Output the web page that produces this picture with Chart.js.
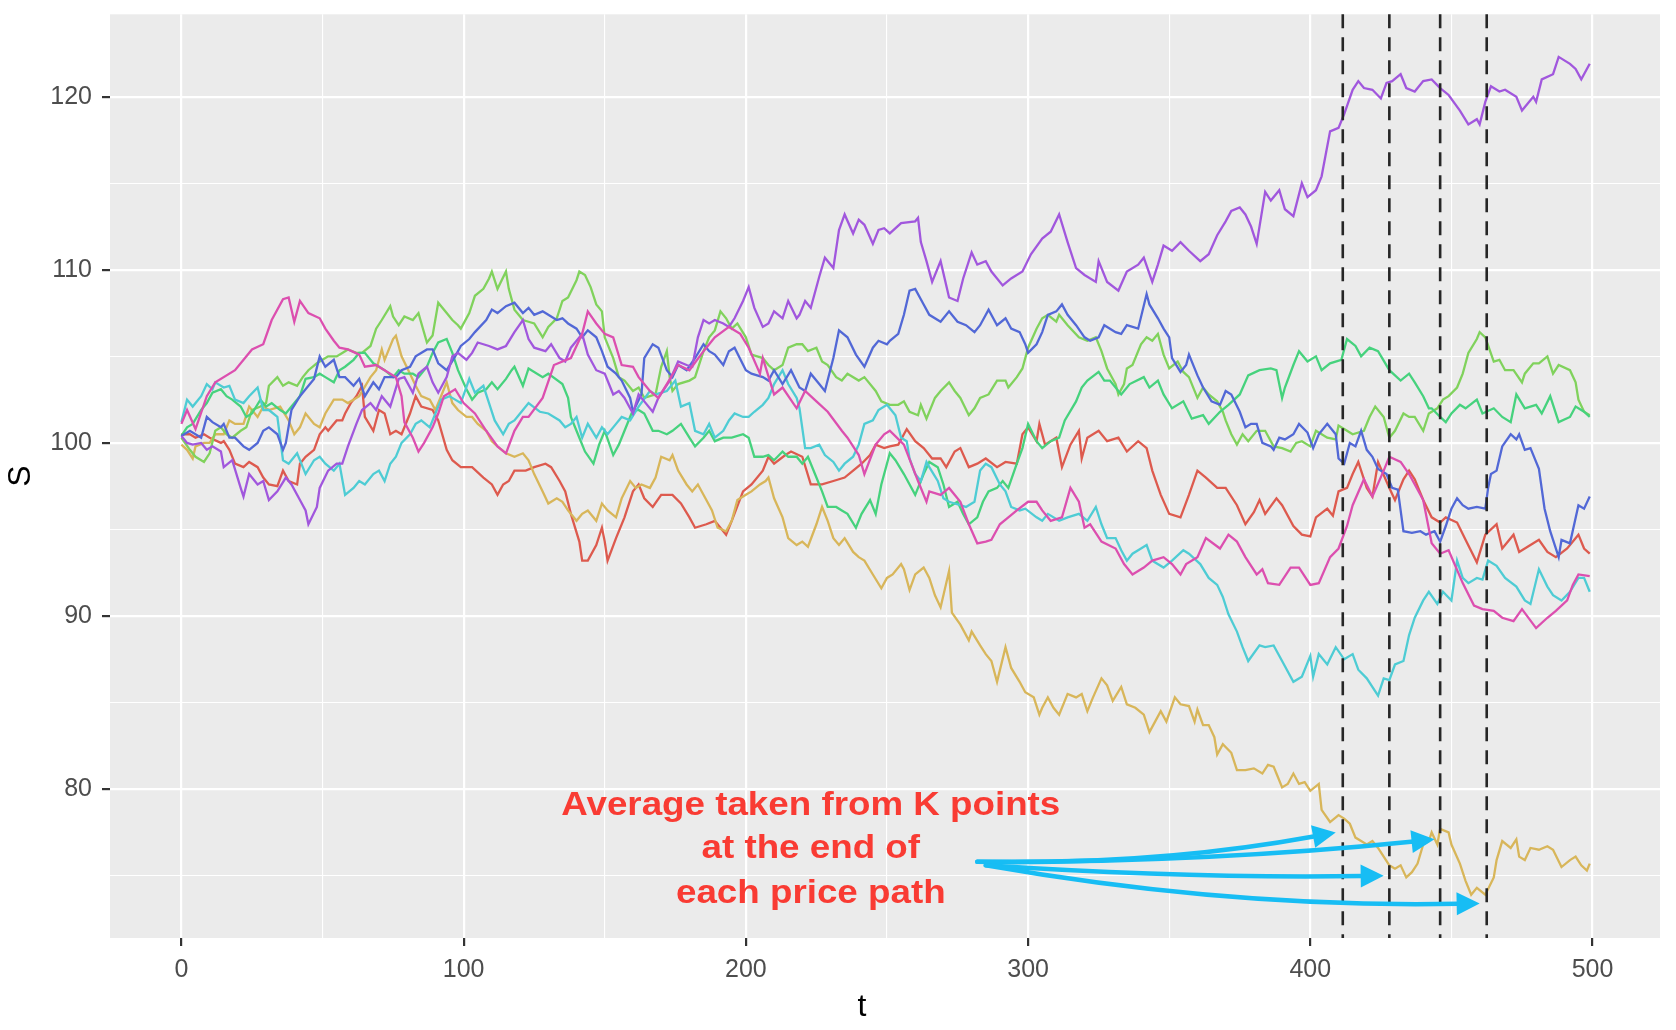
<!DOCTYPE html>
<html>
<head>
<meta charset="utf-8">
<script src="https://cdn.jsdelivr.net/npm/chart.js@4.4.1/dist/chart.umd.min.js"></script>
<style>
  html, body { margin: 0; padding: 0; background: #ffffff; }
  canvas { display: block; }
</style>
</head>
<body>
<canvas id="pathChart" width="1676" height="1030"></canvas>
<script>
'use strict';

// price paths as [t, S]
let redPath = [[0,100.5],[3,100.5],[5,100.3],[8,100.5],[10,100.3],[14,100.0],[15,100.1],[17,99.6],[19,98.8],[22,98.6],[24,98.9],[27,98.6],[29,98.0],[31,97.6],[34,97.5],[36,98.4],[38,97.8],[41,97.6],[42,98.8],[44,99.2],[47,99.6],[49,100.5],[51,100.9],[52,100.7],[55,101.3],[57,101.3],[58,101.7],[60,102.3],[62,102.7],[64,103.3],[65,101.5],[68,100.7],[70,101.9],[72,101.7],[74,100.5],[76,100.7],[78,100.5],[81,101.7],[83,102.7],[85,102.1],[89,101.9],[91,101.3],[94,99.6],[96,99.0],[99,98.6],[103,98.6],[107,98.0],[110,97.6],[112,97.0],[114,97.6],[116,97.8],[118,98.4],[122,98.4],
  [125,98.6],[129,98.8],[131,98.6],[134,97.8],[136,97.2],[138,95.9],[141,94.3],[142,93.2],[144,93.2],[147,94.1],[149,95.1],[150,94.3],[151,93.2],[154,94.5],[157,95.7],[160,97.2],[162,97.6],[164,96.8],[167,96.3],[170,97.0],[174,97.0],[177,96.5],[180,95.7],[182,95.1],[186,95.3],[189,95.5],[193,94.7],[195,95.5],[199,97.2],[202,97.6],[206,98.4],[208,99.2],[210,98.8],[214,99.3],[216,99.5],[220,99.2],[223,97.6],[227,97.6],[231,97.8],[235,98.0],[238,98.4],[241,98.8],[244,99.3],[246,99.9],[249,99.7],
  [251,99.8],[254,99.9],[257,100.8],[260,100.1],[263,99.7],[266,99.1],[269,99.1],[271,98.6],[274,99.5],[276,99.7],[279,98.6],[282,98.8],[285,99.1],[289,98.6],[292,98.9],[296,98.8],[298,100.5],[300,100.9],[303,100.1],[304,101.1],[306,99.9],[310,100.3],[312,98.6],[315,99.9],[318,100.7],[319,99.1],[321,100.3],[325,100.7],[328,100.1],[332,100.3],[335,99.5],[339,100.1],[342,99.7],[344,98.4],[347,97.0],[350,95.9],[354,95.7],[357,97.0],[360,98.4],[363,98.0],[367,97.4],[370,97.4],[374,96.4],[377,95.3],
  [380,96.0],[382,96.7],[384,95.9],[388,96.8],[390,96.4],[394,95.2],[397,94.7],[400,94.6],[402,95.7],[406,96.2],[408,95.8],[410,97.2],[413,97.4],[415,98.2],[417,98.9],[420,97.4],[422,96.9],[424,98.9],[428,97.4],[430,96.7],[433,97.9],[435,98.4],[437,97.9],[440,96.7],[443,95.7],[446,95.4],[448,95.7],[452,95.4],[455,94.4],[459,93.1],[462,94.7],[466,95.3],[468,93.9],[472,94.7],[474,93.7],[478,94.1],[481,94.4],[484,93.7],[487,93.4],[491,93.9],[495,94.7],[497,93.9],[499,93.6]];

let goldPath = [[0,99.9],[2,99.6],[4,99.1],[5,99.8],[8,100.0],[10,100.0],[12,100.5],[15,100.5],[17,101.3],[19,101.1],[22,101.1],[24,102.1],[27,101.5],[29,102.1],[31,101.9],[35,102.1],[38,101.3],[40,100.5],[42,100.9],[44,101.7],[47,101.1],[49,100.9],[51,101.7],[54,102.5],[57,102.5],[59,102.3],[63,102.7],[67,103.8],[69,104.2],[71,105.4],[72,104.8],[75,106.0],[76,106.2],[78,105.0],[81,104.0],[83,103.3],[85,102.7],[88,102.5],[90,101.9],[94,103.5],[96,102.3],[98,101.9],[101,101.5],[103,101.5],[105,101.1],[108,100.7],[110,100.1],[112,99.8],[115,99.4],[118,99.2],[121,99.4],
  [123,99.0],[125,98.2],[128,97.2],[130,96.5],[133,96.8],[135,96.6],[137,96.1],[140,95.5],[142,95.9],[144,96.1],[147,95.5],[149,96.5],[151,96.1],[154,95.7],[156,96.8],[159,97.8],[161,97.4],[163,97.6],[166,97.4],[168,98.0],[170,99.2],[173,99.0],[174,99.3],[176,98.4],[179,97.6],[181,97.2],[183,97.6],[186,96.7],[188,96.1],[190,95.1],[193,94.9],[195,95.5],[197,96.7],[200,97.0],[202,97.2],[205,97.6],[207,97.8],[208,98.0],[210,96.8],[213,95.7],[215,94.5],[218,94.1],[220,94.3],[222,94.0],[225,95.3],[227,96.3],[229,95.5],[231,94.5],[233,94.1],[235,94.5],[238,93.7],[240,93.4],[242,93.2],
  [245,92.4],[248,91.6],[250,92.2],[252,92.4],[255,93.0],[256,92.7],[258,91.5],[260,92.4],[263,92.8],[265,92.2],[267,91.2],[269,90.5],[270,91.2],[272,92.6],[273,90.2],[276,89.5],[279,88.6],[280,89.1],[283,88.3],[285,87.8],[287,87.4],[289,86.2],[292,88.2],[294,87.0],[297,86.2],[299,85.6],[302,85.3],[304,84.3],[305,84.7],[307,85.3],[309,84.7],[311,84.3],[314,85.5],[317,85.3],[319,85.5],[321,84.5],[323,85.3],[326,86.4],[328,86.0],[330,85.1],[333,85.9],[335,84.9],[338,84.7],[341,84.3],[343,83.3],[345,83.9],[347,84.5],[349,83.9],[352,85.3],[354,84.9],[357,84.8],[359,83.9],[360,84.6],[362,83.7],[364,83.7],[366,83.0],[367,82.0],[369,82.6],[372,82.1],[374,81.1],[377,81.1],
  [380,81.2],[383,80.9],[385,81.4],[387,81.3],[388,80.9],[390,80.1],[392,80.3],[394,80.9],[396,80.3],[398,80.4],[400,79.9],[403,80.3],[404,78.8],[407,78.1],[410,78.5],[412,78.3],[414,78.0],[416,77.2],[418,77.0],[420,76.8],[422,77.0],[424,76.6],[426,76.1],[428,75.6],[430,75.4],[432,75.6],[434,74.9],[436,75.2],[438,75.7],[440,76.8],[442,77.0],[443,77.5],[445,76.8],[446,77.7],[449,77.5],[450,76.8],[453,75.7],[455,74.7],[457,73.9],[459,74.3],[462,73.9],[465,74.9],[466,75.9],[468,77.0],[471,76.6],[473,77.1],[474,76.1],[476,75.9],[478,76.6],[481,76.5],[484,76.7],[486,76.5],[489,75.5],[492,75.9],[494,76.1],[496,75.6],[498,75.3],[499,75.7]];

let limePath = [[0,100.3],[3,99.6],[5,99.2],[8,98.9],[10,99.4],[12,100.7],[14,100.9],[16,100.5],[18,100.3],[21,100.7],[23,100.9],[25,101.9],[28,102.1],[30,102.3],[31,103.3],[34,103.8],[36,103.3],[38,103.5],[41,103.3],[43,103.8],[45,104.2],[48,104.6],[50,104.8],[52,105.0],[55,105.0],[57,105.2],[59,105.4],[62,105.2],[64,105.2],[67,105.6],[69,106.6],[71,107.1],[74,107.9],[75,107.3],[77,106.8],[79,107.3],[82,107.1],[84,107.5],[87,105.8],[89,106.2],[91,108.1],[94,107.5],[96,107.1],[98,106.8],[99,106.6],[102,107.5],[104,108.5],[107,108.9],[109,109.5],[110,109.9],[112,108.9],[115,109.9],[116,108.9],[118,107.7],[121,107.1],
  [123,107.0],[125,106.9],[128,106.1],[130,106.7],[133,107.2],[135,108.2],[137,108.4],[140,109.4],[141,109.9],[143,109.7],[145,109.0],[147,108.0],[149,107.6],[150,106.1],[153,104.9],[155,103.8],[157,103.6],[160,103.0],[162,103.2],[164,102.6],[168,102.8],[170,104.4],[172,105.3],[173,103.8],[174,103.0],[176,103.4],[180,103.6],[182,103.8],[185,105.3],[187,106.1],[189,106.5],[191,107.6],[193,107.2],[195,106.6],[197,106.9],[200,106.1],[202,105.1],[206,104.9],[208,104.5],[210,104.2],[213,104.5],[215,105.5],[218,105.7],[220,105.7],[222,105.3],[225,105.5],[227,104.7],[229,104.5],[232,103.8],[234,103.6],[236,104.0],[240,103.6],[242,103.8],[246,103.0],[248,102.4],[251,102.2],
  [254,102.2],[256,102.4],[258,101.8],[261,101.6],[262,102.2],[264,101.4],[267,102.6],[269,103.0],[272,103.5],[274,103.0],[276,102.6],[279,101.6],[281,102.0],[283,102.6],[286,102.8],[289,103.6],[292,103.6],[293,103.2],[296,103.8],[298,104.3],[300,105.5],[303,106.6],[305,107.2],[307,107.4],[310,107.0],[311,107.4],[314,106.8],[318,106.1],[321,105.9],[324,106.1],[326,105.3],[328,104.3],[331,103.4],[332,102.8],[334,103.4],[335,104.3],[337,104.5],[340,105.7],[342,106.1],[344,105.9],[346,106.3],[348,105.1],[350,104.3],[353,104.7],[355,104.1],[357,103.8],[360,102.6],[362,103.2],[364,102.8],[367,102.4],[369,101.8],[370,101.3],[372,100.5],[374,99.9],[376,100.5],[378,100.1],
  [381,100.7],[384,100.7],[387,99.8],[390,99.7],[393,99.5],[395,100.0],[397,100.1],[400,99.8],[402,100.7],[406,100.3],[409,100.2],[410,101.0],[413,100.7],[415,100.5],[419,100.7],[421,101.5],[423,102.1],[426,101.5],[428,100.3],[430,100.7],[433,101.7],[435,101.5],[437,101.5],[440,100.7],[442,101.7],[445,102.0],[447,102.5],[449,102.7],[452,103.2],[454,104.0],[456,105.2],[459,106.0],[460,106.4],[462,106.1],[465,104.7],[467,104.8],[469,104.2],[472,104.2],[475,103.5],[476,104.0],[479,104.6],[481,104.6],[484,105.0],[486,104.0],[488,104.5],[492,104.2],[494,103.5],[495,102.5],[497,101.8],[499,101.6]];

let greenPath = [[0,100.4],[2,100.9],[4,101.1],[7,101.9],[9,102.3],[11,102.9],[14,103.1],[16,102.7],[18,102.5],[21,102.1],[23,101.5],[25,101.7],[28,102.5],[30,102.1],[32,102.3],[35,101.9],[37,101.7],[39,102.1],[42,102.7],[44,103.7],[47,103.8],[49,104.0],[51,103.8],[54,103.5],[56,104.2],[58,104.4],[61,104.8],[63,105.2],[65,105.2],[68,104.6],[70,104.4],[72,104.2],[75,103.8],[77,104.2],[79,104.0],[82,104.0],[84,103.8],[87,104.4],[89,105.2],[91,105.8],[94,106.0],[96,105.2],[98,104.2],[101,103.1],[103,102.5],[105,102.9],[108,103.1],[110,103.5],[112,103.1],[115,103.7],[117,104.2],[118,104.4],[121,103.3],
  [123,104.3],[128,103.8],[130,104.0],[135,103.4],[137,102.6],[138,101.5],[141,100.3],[143,99.5],[146,98.8],[148,99.9],[150,100.7],[153,99.3],[155,99.9],[157,100.7],[160,101.9],[162,101.9],[164,101.7],[167,100.7],[169,100.7],[172,100.5],[174,100.7],[177,101.1],[180,100.3],[182,99.8],[185,100.3],[187,100.7],[189,100.1],[192,100.3],[195,100.3],[199,100.5],[201,100.3],[203,99.2],[206,99.2],[208,99.3],[210,99.0],[213,99.5],[215,99.2],[218,99.2],[220,98.8],[222,99.2],[225,98.0],[227,97.2],[229,96.3],[232,96.3],[234,96.1],[236,95.9],[239,95.1],[241,95.9],[244,96.7],[246,95.9],[248,97.6],[251,99.4],[253,99.0],
  [256,98.2],[260,97.0],[263,98.2],[265,98.9],[268,98.6],[270,97.6],[272,96.3],[275,96.6],[277,95.9],[279,95.3],[282,95.7],[284,96.6],[286,97.2],[289,97.4],[291,97.8],[293,97.4],[296,98.8],[298,99.7],[300,101.1],[303,100.1],[305,99.7],[308,100.1],[311,100.3],[313,101.3],[317,102.4],[319,103.2],[321,103.6],[325,104.1],[327,103.6],[329,103.6],[333,102.8],[336,103.4],[341,103.8],[343,103.2],[346,103.6],[348,102.8],[351,102.0],[355,102.4],[358,101.4],[362,101.6],[364,101.1],[368,101.8],[371,102.2],[375,102.8],[378,103.9],
  [382,104.2],[386,104.3],[388,104.2],[390,102.6],[391,103.2],[394,104.5],[396,105.3],[399,104.7],[402,105.0],[404,104.2],[407,104.6],[411,104.8],[413,106.0],[416,105.6],[418,105.0],[421,105.5],[424,105.3],[428,104.2],[432,103.6],[435,104.0],[437,103.5],[440,102.7],[442,102.0],[443,102.0],[446,101.5],[448,101.2],[450,101.7],[453,102.2],[455,102.0],[459,102.5],[461,101.7],[465,102.0],[468,101.5],[471,101.2],[473,102.8],[476,102.0],[480,102.2],[482,101.7],[485,102.7],[488,101.2],[492,101.5],[494,102.1],[497,101.8],[499,101.5]];

let cyanPath = [[0,101.2],[2,102.5],[4,102.1],[7,102.7],[9,103.4],[11,103.1],[12,103.5],[15,103.2],[17,103.3],[19,102.5],[22,102.3],[24,102.7],[27,103.2],[29,101.9],[31,101.9],[34,101.5],[36,99.0],[38,98.8],[41,99.4],[43,98.6],[44,98.2],[47,99.0],[49,99.2],[51,98.8],[54,98.4],[56,98.8],[58,97.0],[61,97.4],[63,97.8],[65,97.6],[68,98.2],[70,98.4],[72,97.8],[74,98.8],[76,99.2],[78,100.0],[81,100.5],[83,101.1],[85,101.3],[88,100.9],[90,101.7],[92,102.5],[95,102.7],[97,102.5],[99,102.3],[102,103.7],[104,102.9],[107,103.3],[109,102.3],[111,101.3],[114,100.5],[116,101.1],[118,101.3],[121,101.9],
  [123,102.3],[127,101.8],[130,101.7],[134,101.3],[136,100.9],[138,101.1],[140,101.5],[142,100.3],[144,101.1],[147,100.3],[149,100.9],[151,100.5],[154,101.1],[156,101.5],[159,101.3],[162,102.1],[166,103.0],[168,102.8],[172,103.0],[175,103.6],[177,102.1],[180,102.3],[182,100.7],[185,100.5],[187,101.1],[189,100.3],[192,100.7],[194,101.3],[196,101.7],[199,101.5],[201,101.5],[203,101.8],[206,102.2],[208,102.6],[210,103.4],[213,104.2],[215,103.4],[218,102.6],[219,102.0],[221,99.7],[223,99.7],[226,99.9],[228,99.3],[231,98.9],[233,98.4],[235,98.8],[238,99.2],[240,99.9],[242,101.1],[245,101.3],[247,101.9],[250,102.2],
  [253,101.6],[255,100.3],[257,100.1],[258,99.1],[260,98.2],[262,97.8],[264,98.9],[265,98.6],[268,97.8],[270,96.8],[272,96.6],[276,96.4],[278,96.3],[281,96.6],[283,98.4],[285,98.8],[287,98.6],[290,97.6],[292,97.2],[294,96.3],[297,96.1],[299,96.2],[303,95.7],[305,95.5],[307,95.9],[311,95.5],[314,95.7],[318,95.9],[321,95.5],[324,96.3],[326,95.3],[328,94.5],[331,94.5],[333,93.8],[335,93.2],[337,93.6],[340,93.9],[342,94.1],[344,93.2],[348,92.8],[351,93.2],[355,93.8],[357,93.6],[361,93.0],[364,92.2],[367,91.8],[369,91.1],[371,90.1],[374,89.1],[376,88.2],[378,87.4],
  [382,88.3],[384,88.2],[387,88.3],[390,87.4],[394,86.2],[397,86.5],[400,87.7],[401,86.5],[403,87.8],[406,87.2],[409,88.2],[412,87.5],[415,87.8],[417,86.9],[420,86.4],[424,85.4],[426,86.4],[428,86.3],[430,87.2],[433,87.4],[435,88.9],[437,89.9],[440,90.9],[442,91.4],[445,90.7],[447,91.4],[450,90.9],[452,93.2],[454,92.2],[456,91.9],[459,92.2],[461,92.1],[463,93.2],[466,92.9],[469,92.2],[473,91.7],[476,90.9],[478,90.7],[481,92.7],[484,91.7],[486,91.2],[489,90.9],[492,91.4],[495,92.2],[497,92.2],[499,91.4]];

let bluePath = [[0,100.4],[3,100.7],[7,100.3],[9,101.5],[11,101.2],[14,100.9],[15,101.1],[17,100.3],[19,100.3],[22,99.8],[24,99.6],[27,100.0],[29,100.7],[31,100.9],[34,100.5],[36,99.6],[37,100.0],[39,101.9],[42,102.7],[44,103.1],[47,103.7],[49,105.0],[51,104.4],[54,104.8],[56,103.8],[58,103.8],[61,103.3],[63,103.7],[65,102.7],[68,103.5],[70,103.1],[72,103.8],[76,103.8],[78,104.2],[81,104.4],[83,105.0],[87,105.4],[89,105.4],[91,104.6],[94,104.2],[97,105.0],[99,105.6],[102,106.0],[104,106.4],[108,107.1],[110,107.7],[112,107.5],[115,107.9],[118,108.1],[121,107.5],
  [123,107.8],[125,107.4],[128,107.6],[130,107.4],[133,107.1],[135,107.2],[137,106.9],[140,106.6],[142,106.1],[144,106.5],[147,106.1],[149,105.3],[151,104.4],[154,104.0],[156,103.6],[159,102.6],[160,101.8],[163,102.8],[164,104.9],[167,105.7],[169,105.5],[172,104.2],[174,103.8],[176,104.5],[179,104.2],[182,104.9],[185,105.7],[187,105.3],[189,105.1],[192,104.5],[194,105.3],[196,105.5],[200,104.2],[202,104.0],[206,103.8],[208,103.6],[210,104.2],[213,103.4],[216,104.2],[219,103.2],[221,103.0],[223,104.0],[226,103.4],[228,103.0],[231,104.9],[233,106.5],[236,106.1],[239,105.1],[242,104.4],[245,105.5],[247,105.9],[250,105.7],
  [251,105.9],[254,106.3],[256,107.4],[258,108.8],[260,108.9],[263,108.0],[265,107.4],[269,107.0],[272,107.6],[275,107.0],[278,106.8],[281,106.4],[283,106.8],[286,107.7],[289,106.8],[292,107.2],[294,106.6],[297,106.4],[299,105.7],[300,105.2],[303,105.7],[305,106.4],[307,107.4],[310,107.6],[312,108.0],[314,107.4],[317,106.8],[320,106.1],[322,105.9],[325,106.1],[327,106.8],[331,106.4],[333,106.3],[335,106.8],[339,106.6],[342,108.6],[343,108.0],[346,107.2],[348,106.6],[350,106.1],[351,104.9],[354,104.1],[356,104.5],[357,105.1],[360,103.9],[362,103.2],[365,102.4],[368,102.2],[370,103.0],[372,102.8],[375,101.8],[377,100.9],
  [379,101.1],[381,101.1],[383,100.0],[386,99.8],[387,99.6],[389,100.3],[391,100.2],[394,100.5],[396,101.1],[399,100.6],[401,99.7],[403,100.5],[406,101.1],[409,100.5],[410,99.1],[412,98.8],[414,100.0],[416,99.8],[418,100.7],[420,99.6],[422,99.2],[424,98.5],[427,98.2],[429,97.4],[431,97.3],[433,94.9],[436,94.8],[439,94.9],[441,94.7],[444,94.9],[446,94.3],[448,95.2],[450,96.2],[452,96.8],[454,96.4],[456,96.2],[459,96.3],[462,96.2],[463,97.4],[464,98.2],[466,98.4],[468,99.8],[471,100.5],[473,100.2],[474,100.5],[476,99.6],[478,99.7],[481,98.5],[483,96.2],[485,94.9],[488,93.4],[489,94.4],[492,94.2],[495,96.4],[497,96.2],[499,96.9]];

let purplePath = [[0,100.4],[2,100.0],[4,99.9],[7,100.0],[9,99.6],[11,99.8],[14,99.5],[15,98.6],[18,99.0],[21,97.4],[22,96.9],[24,98.2],[27,97.6],[29,97.8],[31,96.7],[34,97.2],[37,98.0],[39,97.6],[42,96.7],[44,96.1],[45,95.3],[48,96.3],[49,97.4],[52,98.4],[55,98.8],[57,98.8],[59,99.8],[62,101.1],[64,101.9],[67,102.3],[69,101.9],[71,102.7],[74,102.1],[77,103.7],[79,103.8],[82,102.9],[84,104.0],[87,104.4],[89,103.5],[91,102.9],[94,103.8],[96,105.0],[98,105.2],[101,104.8],[103,105.2],[105,105.8],[109,105.6],[112,105.4],[115,105.6],[118,106.4],[121,107.1],
  [123,106.0],[125,105.5],[129,105.3],[131,105.7],[134,104.9],[136,104.7],[138,105.5],[142,106.3],[144,105.1],[147,104.2],[150,104.0],[153,102.8],[155,103.0],[157,102.6],[160,101.7],[162,102.8],[164,102.4],[167,101.8],[169,102.6],[173,103.6],[176,104.7],[179,104.5],[181,104.4],[183,106.1],[185,107.1],[187,106.9],[189,107.1],[192,106.9],[194,106.7],[196,107.2],[199,108.2],[201,109.0],[203,107.8],[206,106.7],[208,106.9],[210,107.6],[213,107.2],[215,108.2],[218,107.2],[219,107.4],[221,108.2],[223,107.8],[226,109.6],[228,110.7],[231,110.1],[233,112.3],[235,113.2],[238,112.1],[240,112.9],[242,112.6],[245,111.5],[247,112.3],[249,112.4],
  [251,112.1],[255,112.7],[260,112.8],[261,113.0],[262,111.6],[264,110.5],[266,109.3],[269,110.5],[272,108.4],[275,108.2],[277,109.5],[280,111.0],[282,110.3],[285,110.5],[287,109.9],[291,109.1],[294,109.5],[298,109.9],[301,110.9],[305,111.8],[308,112.2],[311,113.2],[314,111.6],[317,110.1],[320,109.7],[324,109.3],[325,110.5],[328,109.3],[332,108.8],[335,109.9],[339,110.3],[341,110.7],[344,109.3],[346,110.3],[348,111.4],[351,111.1],[354,111.6],[357,111.1],[361,110.5],[364,110.9],[367,112.0],[370,112.8],[372,113.4],[375,113.6],[377,113.2],
  [379,112.5],[381,111.5],[384,114.5],[386,114.0],[389,114.6],[391,113.5],[394,113.1],[397,115.0],[399,114.2],[402,114.6],[404,115.4],[407,118.0],[410,118.2],[412,119.0],[415,120.4],[417,120.9],[419,120.5],[422,120.4],[425,119.9],[427,120.8],[429,120.9],[432,121.3],[434,120.5],[437,120.3],[440,120.9],[443,121.0],[446,120.5],[449,120.1],[453,119.2],[456,118.4],[459,118.7],[460,118.4],[462,119.7],[464,120.6],[467,120.3],[469,120.4],[473,120.0],[475,119.2],[479,120.0],[480,119.7],[482,121.0],[486,121.3],[488,122.3],[492,121.9],[494,121.6],[496,121.0],[499,121.9]];

let pinkPath = [[0,101.1],[2,101.9],[5,100.8],[9,102.7],[12,103.5],[19,104.2],[25,105.4],[29,105.7],[32,107.1],[36,108.3],[38,108.4],[40,107.0],[42,108.2],[45,107.5],[49,107.2],[51,106.6],[54,105.9],[56,105.5],[59,105.4],[63,105.1],[65,104.4],[69,104.5],[72,104.2],[76,103.8],[78,102.7],[79,101.2],[82,100.3],[84,99.5],[86,100.0],[89,100.9],[91,101.7],[93,102.7],[97,103.1],[100,102.3],[104,101.7],[108,100.7],[112,99.8],[115,99.4],[118,100.7],[121,101.5],
  [123,101.5],[128,102.6],[132,104.5],[138,104.9],[142,106.3],[144,107.6],[147,106.9],[150,106.3],[153,106.1],[156,104.5],[160,104.4],[162,103.8],[166,103.0],[169,102.6],[172,103.4],[176,104.5],[180,104.2],[185,105.3],[189,106.1],[194,106.7],[198,106.3],[201,105.5],[205,104.0],[206,104.9],[210,102.8],[213,103.2],[218,102.0],[221,103.0],[225,102.4],[229,101.8],[234,100.7],[236,100.3],[240,99.3],[242,98.2],[246,99.9],[249,100.5],
  [251,100.7],[256,99.9],[261,97.8],[264,96.6],[265,97.2],[269,97.0],[272,97.4],[276,96.6],[279,95.3],[282,94.2],[285,94.3],[287,94.4],[290,95.3],[293,95.7],[296,96.1],[300,96.6],[303,96.6],[305,96.1],[308,95.5],[312,95.7],[315,97.4],[318,96.6],[320,95.1],[322,95.3],[326,94.3],[331,93.9],[334,93.0],[337,92.4],[341,92.8],[344,93.2],[348,93.4],[351,93.0],[354,92.4],[356,93.0],[360,93.4],[363,94.5],[368,93.9],[371,94.7],[374,94.3],[377,93.4],
  [381,92.4],[383,92.7],[385,91.9],[389,91.8],[393,92.8],[396,92.8],[400,91.8],[403,91.9],[407,93.4],[410,93.9],[413,95.2],[415,96.4],[419,97.9],[422,96.9],[426,98.4],[428,99.2],[432,98.9],[435,98.2],[440,96.7],[443,94.2],[446,93.6],[449,93.8],[454,91.9],[458,90.6],[461,90.4],[465,90.3],[468,89.9],[472,89.7],[475,90.4],[480,89.3],[484,89.9],[487,90.3],[491,90.9],[493,91.8],[495,92.4],[499,92.3]];

let paths = [redPath, goldPath, limePath, greenPath, cyanPath, bluePath, purplePath, pinkPath];
let pathColors = ['#DD5A4E', '#D8B65A', '#80D25C', '#46D27D', '#4ECCD4', '#5268D6', '#A157DD', '#DC4FAF'];

// axis ticks
let xMajor = [0, 100, 200, 300, 400, 500];
let xGrid = [0, 50, 100, 150, 200, 250, 300, 350, 400, 450, 500];
let yMajor = [80, 90, 100, 110, 120];
let yGrid = [75, 80, 85, 90, 95, 100, 105, 110, 115, 120];

// the K averaging points (dashed lines) and the note
let kPoints = [411.5, 428, 446, 462.5];
let noteLines = ['Average taken from K points', 'at the end of', 'each price path'];
let noteT = 223;
let noteS = [78.5, 76.0, 73.45];
let arrowFrom = [[282, 75.8], [282, 75.8], [285, 75.6], [285, 75.6]];
let arrowTo = [[409, 77.5], [444, 77.1], [426, 75.0], [460, 73.4]];
let arrowBend = [9, 6, 4, 12];

let datasets = [];
for (let i = paths.length - 1; i >= 0; i--) {
    datasets.push({
        data: paths[i].map(p => ({ x: p[0], y: p[1] })),
        borderColor: pathColors[i],
        borderWidth: 2.3,
        pointRadius: 0,
        tension: 0,
        fill: false
    });
}

let panelBg = {
    id: 'panelBg',
    beforeDraw(chart) {
        let a = chart.chartArea;
        let ctx = chart.ctx;
        ctx.save();
        ctx.fillStyle = '#EBEBEB';
        ctx.fillRect(a.left, a.top, a.right - a.left, a.bottom - a.top);
        ctx.restore();
    }
};

function drawArrow(ctx, x0, y0, x1, y1, bend) {
    let mx = (x0 + x1) / 2;
    let my = (y0 + y1) / 2;
    let dx = x1 - x0;
    let dy = y1 - y0;
    let len = Math.sqrt(dx * dx + dy * dy);
    // normal pointing downwards on screen
    let nx = -dy / len;
    let ny = dx / len;
    if (ny < 0) { nx = -nx; ny = -ny; }
    let cx = mx + nx * bend * 2;
    let cy = my + ny * bend * 2;
    let tx = x1 - cx;
    let ty = y1 - cy;
    let tl = Math.sqrt(tx * tx + ty * ty);
    tx /= tl;
    ty /= tl;
    let headLen = 23;
    let headHalf = 11.5;
    let bx = x1 - tx * headLen;
    let by = y1 - ty * headLen;

    ctx.beginPath();
    ctx.moveTo(x0, y0);
    ctx.quadraticCurveTo(cx, cy, bx + tx * 2, by + ty * 2);
    ctx.stroke();

    ctx.beginPath();
    ctx.moveTo(x1, y1);
    ctx.lineTo(bx - ty * headHalf, by + tx * headHalf);
    ctx.lineTo(bx + ty * headHalf, by - tx * headHalf);
    ctx.closePath();
    ctx.fill();
}

let notes = {
    id: 'notes',
    afterDatasetsDraw(chart) {
        let ctx = chart.ctx;
        let xs = chart.scales.x;
        let ys = chart.scales.y;
        let a = chart.chartArea;
        ctx.save();

        // dashed K lines
        ctx.strokeStyle = '#262626';
        ctx.lineWidth = 2.6;
        ctx.setLineDash([14, 9]);
        kPoints.forEach(t => {
            let x = xs.getPixelForValue(t);
            ctx.beginPath();
            ctx.moveTo(x, a.top);
            ctx.lineTo(x, a.bottom);
            ctx.stroke();
        });
        ctx.setLineDash([]);

        // arrows
        ctx.strokeStyle = '#17BDF4';
        ctx.fillStyle = '#17BDF4';
        ctx.lineWidth = 4.5;
        ctx.lineCap = 'round';
        for (let i = 0; i < arrowTo.length; i++) {
            drawArrow(ctx,
                xs.getPixelForValue(arrowFrom[i][0]), ys.getPixelForValue(arrowFrom[i][1]),
                xs.getPixelForValue(arrowTo[i][0]), ys.getPixelForValue(arrowTo[i][1]),
                arrowBend[i]);
        }

        // note text
        ctx.fillStyle = '#F93B33';
        ctx.font = "bold 34px 'Liberation Sans Narrow', 'Liberation Sans', sans-serif";
        ctx.textAlign = 'center';
        ctx.textBaseline = 'alphabetic';
        let squeeze = 499 / ctx.measureText(noteLines[0]).width;
        let cx = xs.getPixelForValue(noteT);
        noteLines.forEach((line, i) => {
            ctx.save();
            ctx.translate(cx, ys.getPixelForValue(noteS[i]));
            ctx.scale(squeeze, 1);
            ctx.fillText(line, 0, 0);
            ctx.restore();
        });
        ctx.restore();
    },
    afterDraw(chart) {
        // x axis title, sits a little left of the panel centre in the original
        let ctx = chart.ctx;
        ctx.save();
        ctx.fillStyle = '#000000';
        ctx.font = "32px 'Liberation Sans', Arial, sans-serif";
        ctx.textAlign = 'center';
        ctx.textBaseline = 'middle';
        ctx.fillText('t', 862, 1007);
        ctx.restore();
    }
};

function gridWidth(ctx, major) {
    return major.includes(ctx.tick.value) ? 2.2 : 1.1;
}

let ctx = document.getElementById('pathChart').getContext('2d');
let chart = new Chart(ctx, {
    type: 'line',
    data: { datasets: datasets },
    options: {
        responsive: false,
        animation: false,
        layout: { padding: { top: 14.3, right: 16, left: 0, bottom: 0 } },
        plugins: {
            legend: { display: false },
            tooltip: { enabled: false }
        },
        scales: {
            x: {
                type: 'linear',
                min: -25.3,
                max: 523.9,
                afterBuildTicks: scale => { scale.ticks = xGrid.map(v => ({ value: v })); },
                afterFit: scale => {
                    scale.height = 92;
                    scale.paddingLeft = 0;
                    scale.paddingRight = 0;
                },
                border: { display: false },
                grid: {
                    color: '#FFFFFF',
                    lineWidth: c => gridWidth(c, xMajor),
                    tickColor: c => xMajor.includes(c.tick.value) ? '#333333' : 'rgba(0,0,0,0)',
                    tickWidth: 2.2,
                    tickLength: 8
                },
                ticks: {
                    color: '#4D4D4D',
                    font: { family: "'Liberation Sans', Arial, sans-serif", size: 25 },
                    padding: 9,
                    maxRotation: 0,
                    autoSkip: false,
                    callback: v => xMajor.includes(v) ? String(v) : ''
                }
            },
            y: {
                type: 'linear',
                min: 71.4,
                max: 124.76,
                afterBuildTicks: scale => { scale.ticks = yGrid.map(v => ({ value: v })); },
                afterFit: scale => {
                    scale.width = 110;
                    scale.paddingTop = 0;
                    scale.paddingBottom = 0;
                },
                border: { display: false },
                grid: {
                    color: '#FFFFFF',
                    lineWidth: c => gridWidth(c, yMajor),
                    tickColor: c => yMajor.includes(c.tick.value) ? '#333333' : 'rgba(0,0,0,0)',
                    tickWidth: 2.2,
                    tickLength: 8
                },
                ticks: {
                    color: '#4D4D4D',
                    font: { family: "'Liberation Sans', Arial, sans-serif", size: 25 },
                    padding: 10,
                    autoSkip: false,
                    callback: v => yMajor.includes(v) ? String(v) : ''
                },
                title: {
                    display: true,
                    text: 'S',
                    color: '#000000',
                    font: { family: "'Liberation Sans', Arial, sans-serif", size: 32 },
                    padding: { top: 2, bottom: 0 }
                }
            }
        }
    },
    plugins: [panelBg, notes]
});
</script>
</body>
</html>
